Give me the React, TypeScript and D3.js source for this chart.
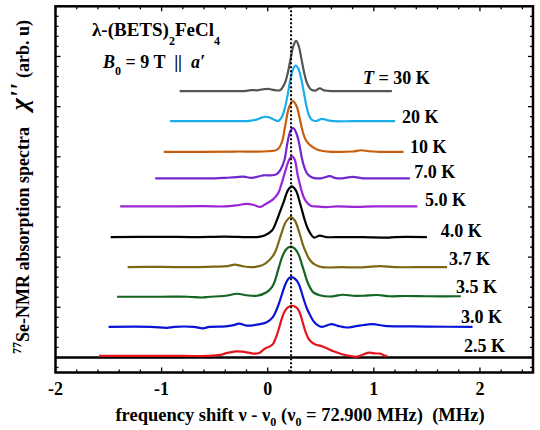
import React from "react";
import * as d3 from "d3";

// ---- data ----
const temperatures = ["2.5 K", "3.0 K", "3.5 K", "3.7 K", "4.0 K", "5.0 K", "7.0 K", "10 K", "20 K", "30 K"];
const offsets = [0.03, 0.61, 1.21, 1.8, 2.4, 3.01, 3.57, 4.1, 4.71, 5.31];
const refShift = 0.22;
const xTickLabels = [-2, -1, 0, 1, 2];

const spec2p5: [number, number][] = [
  [-1.59, 0], [-1.2, 0], [-0.8, 0], [-0.55, 0], [-0.45, 0.02], [-0.38, 0.06], [-0.3, 0.09], [-0.24, 0.085],
  [-0.18, 0.065], [-0.12, 0.045], [-0.08, 0.06], [-0.03, 0.14], [0.02, 0.19], [0.05, 0.24], [0.085, 0.41],
  [0.11, 0.58], [0.135, 0.76], [0.16, 0.89], [0.19, 0.97], [0.226, 1.0], [0.26, 0.98], [0.289, 0.92],
  [0.315, 0.78], [0.336, 0.62], [0.36, 0.46], [0.383, 0.35], [0.41, 0.28], [0.45, 0.23], [0.5, 0.2],
  [0.55, 0.16], [0.62, 0.093], [0.7, 0.035], [0.77, 0.0], [0.84, -0.015], [0.9, 0.03], [0.96, 0.065],
  [1.01, 0.05], [1.06, 0.045], [1.1, 0.01], [1.127, 0],
];
const spec3p0: [number, number][] = [
  [-1.5, 0], [-1.1, 0], [-0.95, -0.02], [-0.88, 0], [-0.7, 0], [-0.61, -0.03], [-0.55, 0], [-0.4, 0.01],
  [-0.32, 0.035], [-0.27, 0.065], [-0.2, 0.025], [-0.1, 0.045], [-0.01, 0.09], [0.05, 0.2], [0.085, 0.35],
  [0.116, 0.53], [0.163, 0.83], [0.195, 0.96], [0.226, 0.99], [0.26, 0.95], [0.289, 0.87], [0.315, 0.72],
  [0.342, 0.53], [0.37, 0.36], [0.4, 0.23], [0.43, 0.12], [0.46, 0.05], [0.51, 0], [0.6, 0.055], [0.66, 0.02],
  [0.745, -0.013], [0.85, 0.02], [0.99, 0.055], [1.1, 0.02], [1.3, 0.01], [1.5, 0.005], [1.93, 0],
];
const spec3p5: [number, number][] = [
  [-1.42, 0], [-1.0, 0], [-0.75, 0], [-0.62, -0.015], [-0.55, 0], [-0.45, 0.01], [-0.38, 0.025], [-0.29, 0.06],
  [-0.2, 0.03], [-0.1, 0.02], [-0.01, 0.09], [0.04, 0.19], [0.07, 0.33], [0.1, 0.55], [0.147, 0.85],
  [0.185, 0.97], [0.22, 1.0], [0.255, 0.96], [0.289, 0.85], [0.336, 0.55], [0.383, 0.25], [0.43, 0.087],
  [0.49, 0.03], [0.587, 0.005], [0.71, 0.04], [0.8, 0.02], [0.9, 0.02], [1.03, 0.035], [1.15, 0.01],
  [1.3, 0.015], [1.5, 0.01], [1.82, 0.01],
];
const spec3p7: [number, number][] = [
  [-1.32, 0], [-1.0, 0.005], [-0.7, 0], [-0.5, 0.01], [-0.38, 0.02], [-0.31, 0.05], [-0.24, 0.02], [-0.15, 0.0],
  [-0.08, 0.02], [-0.04, 0.05], [0.0, 0.11], [0.04, 0.2], [0.07, 0.3], [0.1, 0.48], [0.132, 0.69], [0.17, 0.9],
  [0.217, 1.0], [0.255, 0.93], [0.289, 0.75], [0.31, 0.6], [0.336, 0.42], [0.36, 0.3], [0.383, 0.19],
  [0.415, 0.1], [0.446, 0.05], [0.51, 0], [0.7, 0], [0.85, -0.005], [1.06, 0.02], [1.2, 0], [1.5, 0], [1.69, 0],
];
const spec4p0: [number, number][] = [
  [-1.48, 0], [-1.0, 0.005], [-0.7, 0], [-0.4, 0.01], [-0.2, 0], [-0.1, 0], [-0.03, 0.03], [0.04, 0.13],
  [0.085, 0.33], [0.115, 0.5], [0.147, 0.68], [0.19, 0.93], [0.226, 1.01], [0.265, 0.93], [0.305, 0.67],
  [0.35, 0.33], [0.375, 0.18], [0.4, 0.08], [0.435, -0.01], [0.49, 0.03], [0.55, 0], [0.7, 0], [0.9, 0],
  [1.13, -0.01], [1.2, 0], [1.5, 0],
];
const spec5p0: [number, number][] = [
  [-1.39, 0], [-1.0, 0], [-0.6, 0.005], [-0.4, 0], [-0.3, 0.02], [-0.2, 0.05], [-0.13, 0.03], [-0.07, -0.01],
  [-0.01, 0.06], [0.05, 0.14], [0.1, 0.27], [0.13, 0.45], [0.165, 0.7], [0.2, 0.92], [0.228, 1.0],
  [0.255, 0.93], [0.28, 0.65], [0.31, 0.38], [0.34, 0.18], [0.37, 0.08], [0.41, 0.01], [0.45, 0],
  [0.55, -0.012], [0.65, 0], [0.84, -0.01], [1.0, 0], [1.41, 0],
];
const spec7p0: [number, number][] = [
  [-1.06, 0], [-0.8, 0], [-0.5, 0], [-0.4, 0.01], [-0.33, 0.02], [-0.23, 0.035], [-0.15, 0.01], [-0.04, 0.06],
  [0.03, 0.06], [0.08, 0.08], [0.12, 0.17], [0.157, 0.36], [0.185, 0.7], [0.215, 0.95], [0.241, 1.0],
  [0.27, 0.9], [0.295, 0.71], [0.32, 0.42], [0.345, 0.22], [0.367, 0.11], [0.4, 0.04], [0.43, 0.01],
  [0.5, 0], [0.587, 0.045], [0.63, 0.01], [0.7, 0], [0.8, 0.03], [0.9, 0], [1.0, 0], [1.34, 0],
];
const spec10: [number, number][] = [
  [-0.98, 0], [-0.6, 0], [-0.3, 0.005], [-0.1, 0.005], [0.0, 0.01], [0.06, 0.02], [0.1, 0.06], [0.135, 0.2],
  [0.165, 0.52], [0.2, 0.88], [0.235, 1.01], [0.27, 0.92], [0.3, 0.68], [0.33, 0.4], [0.36, 0.23],
  [0.39, 0.15], [0.42, 0.1], [0.46, 0.05], [0.52, 0.015], [0.6, 0], [0.8, 0.005], [0.88, 0.03], [0.95, 0.01],
  [1.05, 0], [1.28, 0],
];
const spec20: [number, number][] = [
  [-0.92, 0], [-0.5, 0], [-0.25, 0], [-0.17, 0.005], [-0.1, 0.035], [-0.05, 0.075], [-0.02, 0.088],
  [0.02, 0.07], [0.06, 0.03], [0.1, 0.005], [0.13, 0.07], [0.16, 0.25], [0.19, 0.55], [0.215, 0.85],
  [0.24, 1.04], [0.265, 1.11], [0.29, 1.04], [0.315, 0.85], [0.34, 0.58], [0.365, 0.3], [0.39, 0.11],
  [0.42, 0.02], [0.46, 0.005], [0.51, 0.045], [0.56, 0.02], [0.62, 0], [0.8, 0], [1.0, 0], [1.2, 0],
];
const spec30: [number, number][] = [
  [-0.83, 0], [-0.5, 0], [-0.3, 0], [-0.2, 0.005], [-0.15, 0.02], [-0.1, 0.015], [-0.05, 0.035], [0.0, 0.045],
  [0.04, 0.03], [0.09, 0.012], [0.12, 0.02], [0.142, 0.08], [0.167, 0.19], [0.192, 0.39], [0.217, 0.66],
  [0.242, 0.9], [0.267, 1.0], [0.292, 0.9], [0.317, 0.65], [0.342, 0.38], [0.367, 0.18], [0.392, 0.07],
  [0.417, 0.02], [0.45, 0.01], [0.49, 0.055], [0.53, 0.015], [0.57, 0.005], [0.65, 0], [0.8, 0], [1.0, 0], [1.17, 0],
];
const spectra = [spec2p5, spec3p0, spec3p5, spec3p7, spec4p0, spec5p0, spec7p0, spec10, spec20, spec30];

// ---- styles / layout ----
const colors = ["#e3141b", "#0b14d6", "#14651f", "#7c6714", "#000000", "#9a24d6", "#7326cc", "#c65e0e", "#1badea", "#555555"];
const labelAnchorX = [1.85, 1.822, 1.775, 1.709, 1.63, 1.483, 1.38, 1.342, 1.266, 0.898];
const labelAnchorY = [0.234, 0.812, 1.41, 1.957, 2.527, 3.145, 3.691, 4.19, 4.788, 5.565];

const FONT = "'Liberation Serif', 'Times New Roman', serif";

export default function App() {
  const left = 55.5, right = 533, top = 6.3, bottom = 372.5;
  const x = d3.scaleLinear().domain([-2, 2.5]).range([left, right]);
  const y = d3.scaleLinear().domain([-0.3, 7.0]).range([bottom, top]);

  const xMinor = d3.range(-20, 25, 2).map((v) => v / 10);
  const yMinor = d3.range(-1, 36, 1).map((v) => +(v * 0.2).toFixed(2));

  const mkLine = (off: number) =>
    d3
      .line<[number, number]>()
      .x((d) => x(d[0]))
      .y((d) => y(off + d[1]))
      .curve(d3.curveCatmullRom.alpha(0.5));

  const isInt = (v: number) => Math.abs(v - Math.round(v)) < 1e-6;

  return (
    <svg width={540} height={430} style={{ position: "absolute", left: 0, top: 0, background: "#fff" }}
      fontFamily={FONT} fontWeight="bold">
      {/* baseline line */}
      <line x1={left} x2={right} y1={y(0)} y2={y(0)} stroke="#000" strokeWidth={2.5} />

      {/* spectra */}
      {spectra.map((s, i) => (
        <path key={i} d={mkLine(offsets[i])(s) || ""} fill="none" stroke={colors[i]} strokeWidth={2.2}
          strokeLinejoin="round" strokeLinecap="butt" />
      ))}

      {/* reference dotted line */}
      <line x1={x(refShift)} x2={x(refShift)} y1={top} y2={bottom} stroke="#000" strokeWidth={2}
        strokeDasharray="2 2" />

      {/* ticks */}
      {xMinor.map((v, i) => {
        const L = isInt(v) ? 5 : 3;
        return (
          <g key={"xt" + i}>
            <line x1={x(v)} x2={x(v)} y1={bottom} y2={bottom - L} stroke="#000" strokeWidth={1.3} />
            <line x1={x(v)} x2={x(v)} y1={top} y2={top + L} stroke="#000" strokeWidth={1.3} />
          </g>
        );
      })}
      {yMinor.map((v, i) => {
        const L = isInt(v) ? 5 : 3;
        return (
          <g key={"yt" + i}>
            <line x1={left} x2={left + L} y1={y(v)} y2={y(v)} stroke="#000" strokeWidth={1.3} />
            <line x1={right} x2={right - L} y1={y(v)} y2={y(v)} stroke="#000" strokeWidth={1.3} />
          </g>
        );
      })}

      {/* frame */}
      <rect x={left} y={top} width={right - left} height={bottom - top} fill="none" stroke="#000" strokeWidth={2.5} />

      {/* x tick labels */}
      {xTickLabels.map((v) => (
        <text key={"xl" + v} x={x(v)} y={394.5} fontSize={18} textAnchor="middle">{v}</text>
      ))}

      {/* x axis title */}
      <text x={300} y={421} fontSize={18.5} textAnchor="middle" style={{ whiteSpace: "pre" }}>
        <tspan>frequency shift ν - ν</tspan>
        <tspan fontSize={12} dy={5}>0</tspan>
        <tspan dy={-5}> (ν</tspan>
        <tspan fontSize={12} dy={5}>0</tspan>
        <tspan dy={-5}> = 72.900 MHz)  (MHz)</tspan>
      </text>

      {/* y axis title */}
      <g transform="translate(29,354) rotate(-90)">
        <text x={0} y={0} fontSize={18} textAnchor="start">
          <tspan fontSize={12} dy={-8}>77</tspan>
          <tspan dy={8}>Se-NMR absorption spectra</tspan>
        </text>
      </g>
      <g transform="translate(28,97) rotate(-90)">
        <text x={0} y={0} fontSize={26} fontStyle="italic" textAnchor="middle">χ''</text>
      </g>
      <g transform="translate(29,20) rotate(-90)">
        <text x={0} y={0} fontSize={18} textAnchor="end">(arb. u)</text>
      </g>

      {/* sample / field annotation */}
      <text x={92} y={36} fontSize={19}>
        <tspan>λ-(BETS)</tspan>
        <tspan fontSize={12} dy={9}>2</tspan>
        <tspan dy={-9}>FeCl</tspan>
        <tspan fontSize={12} dy={9}>4</tspan>
      </text>
      <text x={103} y={68} fontSize={18} style={{ whiteSpace: "pre" }}>
        <tspan fontStyle="italic">B</tspan>
        <tspan fontSize={12} dy={7}>0</tspan>
        <tspan dy={-7}> = 9 T  ||  </tspan>
        <tspan fontStyle="italic">a′</tspan>
      </text>

      {/* temperature labels */}
      {temperatures.map((t, i) => (
        <text key={"lab" + i} x={x(labelAnchorX[i])} y={y(labelAnchorY[i]) + 6} fontSize={18}
          style={{ whiteSpace: "pre" }}>
          {i === temperatures.length - 1 ? (
            <>
              <tspan fontStyle="italic">T</tspan>
              <tspan>{" = " + t}</tspan>
            </>
          ) : (
            t
          )}
        </text>
      ))}
    </svg>
  );
}
